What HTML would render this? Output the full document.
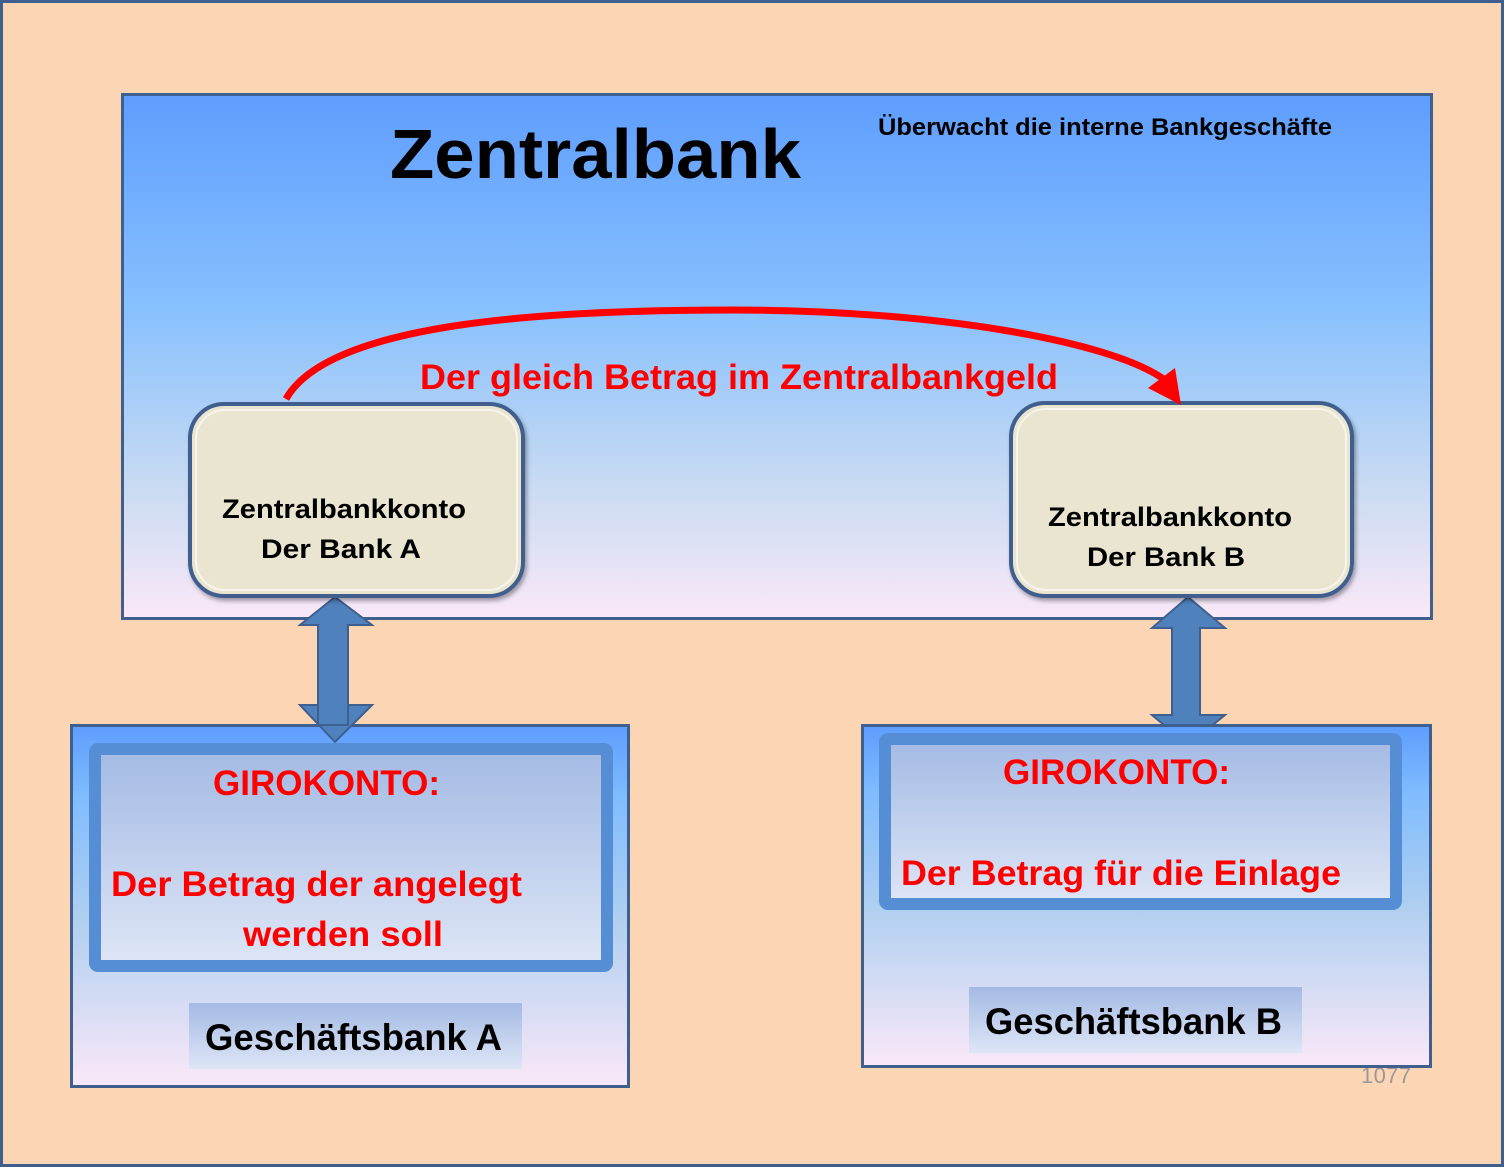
<!DOCTYPE html>
<html><head><meta charset="utf-8"><style>
html,body{margin:0;padding:0;background:#FCD5B4}
svg{display:block}
text{font-family:"Liberation Sans",sans-serif;font-weight:bold}
</style></head><body>
<svg width="1504" height="1167" viewBox="0 0 1504 1167" xmlns="http://www.w3.org/2000/svg">
<defs>
<linearGradient id="gz" x1="0" y1="0" x2="0" y2="1">
<stop offset="0" stop-color="#5E9DFE"/><stop offset="0.4" stop-color="#86C0FE"/><stop offset="0.75" stop-color="#C9DBF2"/><stop offset="1" stop-color="#FAE8F8"/></linearGradient>
<linearGradient id="gb" x1="0" y1="0" x2="0" y2="1">
<stop offset="0" stop-color="#5E9DFE"/><stop offset="0.2" stop-color="#80BCFE"/><stop offset="0.55" stop-color="#B2D0F0"/><stop offset="1" stop-color="#FAE8F8"/></linearGradient>
<linearGradient id="gi" x1="0" y1="0" x2="0" y2="1">
<stop offset="0" stop-color="#A3BAE4"/><stop offset="1" stop-color="#DEE6F6"/></linearGradient>
<filter id="sh" x="-10%" y="-10%" width="120%" height="120%"><feDropShadow dx="2" dy="3" stdDeviation="2" flood-color="#000" flood-opacity="0.35"/></filter>
</defs>
<rect x="1.5" y="1.5" width="1501" height="1164" fill="#FCD5B4" stroke="#3F5F8F" stroke-width="3"/>
<text x="1361" y="1083" font-size="22" fill="#999" style="font-weight:normal" textLength="50">1077</text>

<!-- Zentralbank -->
<rect x="122.5" y="94.5" width="1309" height="524" fill="url(#gz)" stroke="#3F5F8F" stroke-width="3"/>
<text x="390" y="178" font-size="70" fill="#000" textLength="411" lengthAdjust="spacingAndGlyphs">Zentralbank</text>
<text x="878" y="135" font-size="24" fill="#000" textLength="454" lengthAdjust="spacingAndGlyphs">Überwacht die interne Bankgeschäfte</text>

<!-- arrows -->
<path d="M318,625 L300,625 L335,597 L372,625 L348,625 L348,705 L372,705 L335,742 L300,705 L318,705 Z" fill="#4F81BD" stroke="#3F5F8F" stroke-width="2"/>
<path d="M1172,628 L1152,628 L1188,597 L1225,628 L1200,628 L1200,715 L1225,715 L1188,745 L1152,715 L1172,715 Z" fill="#4F81BD" stroke="#3F5F8F" stroke-width="2"/>

<!-- konto boxes -->
<rect x="190" y="404" width="333" height="192" rx="34" fill="#EAE5D0" stroke="#3F5F8F" stroke-width="4" filter="url(#sh)"/>
<rect x="196" y="410" width="321" height="180" rx="29" fill="none" stroke="#fff" stroke-opacity="0.6" stroke-width="2"/>
<text x="222" y="518" font-size="27" fill="#000" textLength="244" lengthAdjust="spacingAndGlyphs">Zentralbankkonto</text>
<text x="261" y="558" font-size="27" fill="#000" textLength="160" lengthAdjust="spacingAndGlyphs">Der Bank  A</text>

<rect x="1011" y="403" width="341" height="193" rx="34" fill="#EAE5D0" stroke="#3F5F8F" stroke-width="4" filter="url(#sh)"/>
<rect x="1017" y="409" width="329" height="181" rx="29" fill="none" stroke="#fff" stroke-opacity="0.6" stroke-width="2"/>
<text x="1048" y="526" font-size="27" fill="#000" textLength="244" lengthAdjust="spacingAndGlyphs">Zentralbankkonto</text>
<text x="1087" y="566" font-size="27" fill="#000" textLength="158" lengthAdjust="spacingAndGlyphs">Der Bank  B</text>

<!-- red arc -->
<path d="M286,399 C330,320 560,310 735,310 C930,310 1110,340 1165,380" fill="none" stroke="#FF0000" stroke-width="7"/>
<path d="M1148,388 L1181,405 L1175,368 Z" fill="#FF0000"/>
<text x="420" y="389" font-size="35" fill="#FF0000" textLength="638" lengthAdjust="spacingAndGlyphs">Der gleich Betrag im Zentralbankgeld</text>

<!-- Geschäftsbank A -->
<rect x="71.5" y="725.5" width="557" height="361" fill="url(#gb)" stroke="#3F5F8F" stroke-width="3"/>
<path d="M318,725 L348,725 L348,705 L372,705 L335,742 L300,705 L318,705 Z" fill="#4F81BD" stroke="#3F5F8F" stroke-width="2"/>
<rect x="95" y="749" width="512" height="217" rx="3" fill="url(#gi)" stroke="#558ED5" stroke-width="12"/>
<text x="213" y="795" font-size="35" fill="#FF0000" textLength="227" lengthAdjust="spacingAndGlyphs">GIROKONTO:</text>
<text x="111" y="896" font-size="35" fill="#FF0000" textLength="411" lengthAdjust="spacingAndGlyphs">Der Betrag der angelegt</text>
<text x="243" y="946" font-size="35" fill="#FF0000" textLength="200" lengthAdjust="spacingAndGlyphs">werden soll</text>
<rect x="189" y="1003" width="333" height="66" fill="url(#gi)"/>
<text x="205" y="1050" font-size="37" fill="#000" textLength="297" lengthAdjust="spacingAndGlyphs">Geschäftsbank  A</text>

<!-- Geschäftsbank B -->
<rect x="862.5" y="725.5" width="568" height="341" fill="url(#gb)" stroke="#3F5F8F" stroke-width="3"/>
<rect x="885" y="739" width="511" height="165" rx="3" fill="url(#gi)" stroke="#558ED5" stroke-width="12"/>
<text x="1003" y="784" font-size="35" fill="#FF0000" textLength="227" lengthAdjust="spacingAndGlyphs">GIROKONTO:</text>
<text x="901" y="885" font-size="35" fill="#FF0000" textLength="440" lengthAdjust="spacingAndGlyphs">Der Betrag für die Einlage</text>
<rect x="969" y="987" width="333" height="66" fill="url(#gi)"/>
<text x="985" y="1034" font-size="37" fill="#000" textLength="297" lengthAdjust="spacingAndGlyphs">Geschäftsbank  B</text>
</svg>
</body></html>
